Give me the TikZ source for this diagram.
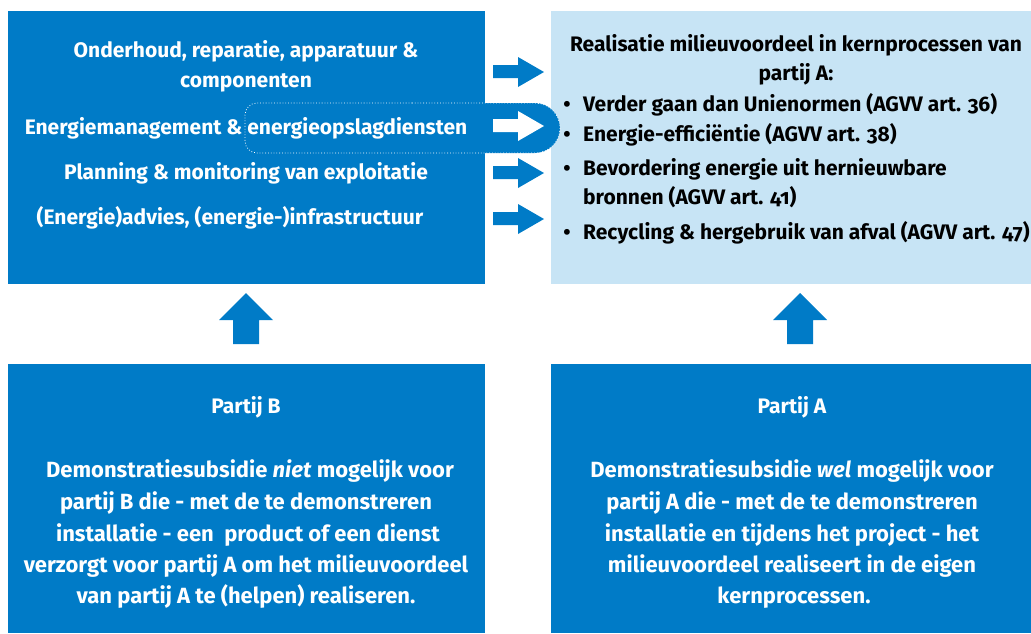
\documentclass[tikz,border=0pt]{standalone}
\usepackage{fontspec}
\setmainfont{Fira Sans}[Numbers=OldStyle]
\usetikzlibrary{positioning}

\definecolor{rvoblue}{RGB}{0,123,199}
\definecolor{rvolight}{RGB}{199,228,245}

\tikzset{
  txt/.style={font=\bfseries\fontsize{21}{25}\selectfont, inner sep=0pt, anchor=base},
  wtxt/.style={txt, text=white},
  btxt/.style={txt, text=black, anchor=base west},
  ptxt/.style={wtxt, font=\bfseries\fontsize{22}{26}\selectfont},
}

\begin{document}
\begin{tikzpicture}[x=1pt, y=-1pt]

\useasboundingbox ( 0, 0 ) rectangle ( 1031, 633 );

% Boxes
\fill [rvoblue] ( 8, 11 ) rectangle ( 485, 284 );
\fill [rvolight] ( 551, 11 ) rectangle ( 1031, 284 );
\fill [rvoblue] ( 8, 364 ) rectangle ( 485, 633 );
\fill [rvoblue] ( 551, 364 ) rectangle ( 1031, 633 );

% Highlighted line
\draw [white, dotted, thick, fill=rvoblue] ( 400, 103 ) [rounded corners=25pt] -- ( 560, 103 ) -- ( 560, 153 ) -- ( 400, 153 ) [rounded corners=12pt] -- ( 245, 153 ) -- ( 245, 103 ) -- cycle;

% Arrows to the right
\fill [rvoblue] ( 493, 65 ) -- ++( 25, 0 ) -- ++( 0, -8 ) -- ++( 26, 15 ) -- ++( -26, 15 ) -- ++( 0, -9 ) -- ++( -25, 0 ) -- cycle;
\fill [white] ( 493, 119 ) -- ++( 25, 0 ) -- ++( 0, -8 ) -- ++( 26, 15 ) -- ++( -26, 15 ) -- ++( 0, -9 ) -- ++( -25, 0 ) -- cycle;
\fill [rvoblue] ( 493, 166 ) -- ++( 25, 0 ) -- ++( 0, -8 ) -- ++( 26, 15 ) -- ++( -26, 15 ) -- ++( 0, -9 ) -- ++( -25, 0 ) -- cycle;
\fill [rvoblue] ( 493, 212 ) -- ++( 25, 0 ) -- ++( 0, -8 ) -- ++( 26, 15 ) -- ++( -26, 15 ) -- ++( 0, -9 ) -- ++( -25, 0 ) -- cycle;

% Arrows up
\fill [rvoblue] ( 233, 344 ) -- ++( 0, -24 ) -- ++( -14, 0 ) -- ++( 27, -27 ) -- ++( 27, 27 ) -- ++( -14, 0 ) -- ++( 0, 24 ) -- cycle;
\fill [rvoblue] ( 787, 344 ) -- ++( 0, -24 ) -- ++( -14, 0 ) -- ++( 27, -27 ) -- ++( 27, 27 ) -- ++( -14, 0 ) -- ++( 0, 24 ) -- cycle;

% Services of partij B
\node (onderhoud) at ( 246, 57 ) [wtxt] {Onderhoud, reparatie, apparatuur \&};
\node (componenten) at ( 246, 87 ) [wtxt] {componenten};
\node (energie) at ( 246, 134 ) [wtxt] {Energiemanagement \& energieopslagdiensten};
\node (planning) at ( 246, 179 ) [wtxt] {Planning \& monitoring van exploitatie};
\node (advies) at ( 230, 224 ) [wtxt] {(Energie)advies, (energie-)infrastructuur};

% Environmental benefit of partij A
\node (realisatie) at ( 796, 51 ) [txt] {Realisatie milieuvoordeel in kernprocessen van};
\node (partijdp) at ( 796, 80 ) [txt] {partij A:};
\node (bul1) at ( 567, 111 ) [txt] {\textbullet};
\node (bul2) at ( 567, 141 ) [txt] {\textbullet};
\node (bul3) at ( 567, 175 ) [txt] {\textbullet};
\node (bul4) at ( 567, 239 ) [txt] {\textbullet};
\node (unie) at ( 583, 111 ) [btxt] {Verder gaan dan Unienormen (AGVV art. 36)};
\node (efficientie) at ( 583, 141 ) [btxt] {Energie-efficiëntie (AGVV art. 38)};
\node (hernieuwbaar) at ( 583, 175 ) [btxt] {Bevordering energie uit hernieuwbare};
\node (bronnen) at ( 583, 204 ) [btxt] {bronnen (AGVV art. 41)};
\node (recycling) at ( 583, 239 ) [btxt] {Recycling \& hergebruik van afval (AGVV art. 47)};

% Partij B
\node (partijB) at ( 246, 413 ) [wtxt] {Partij B};
\node (bB1) at ( 250, 477 ) [ptxt] {Demonstratiesubsidie \textit{niet} mogelijk voor};
\node (bB2) at ( 246, 509 ) [ptxt] {partij B die - met de te demonstreren};
\node (bB3) at ( 248, 541 ) [ptxt] {installatie - een \ product of een dienst};
\node (bB4) at ( 246, 572 ) [ptxt] {verzorgt voor partij A om het milieuvoordeel};
\node (bB5) at ( 246, 603 ) [ptxt] {van partij A te (helpen) realiseren.};

% Partij A
\node (partijA) at ( 792, 413 ) [wtxt] {Partij A};
\node (bA1) at ( 792, 477 ) [ptxt] {Demonstratiesubsidie \textit{wel} mogelijk voor};
\node (bA2) at ( 792, 509 ) [ptxt] {partij A die - met de te demonstreren};
\node (bA3) at ( 792, 541 ) [ptxt] {installatie en tijdens het project - het};
\node (bA4) at ( 792, 572 ) [ptxt] {milieuvoordeel realiseert in de eigen};
\node (bA5) at ( 794, 603 ) [ptxt] {kernprocessen.};

\end{tikzpicture}
\end{document}
